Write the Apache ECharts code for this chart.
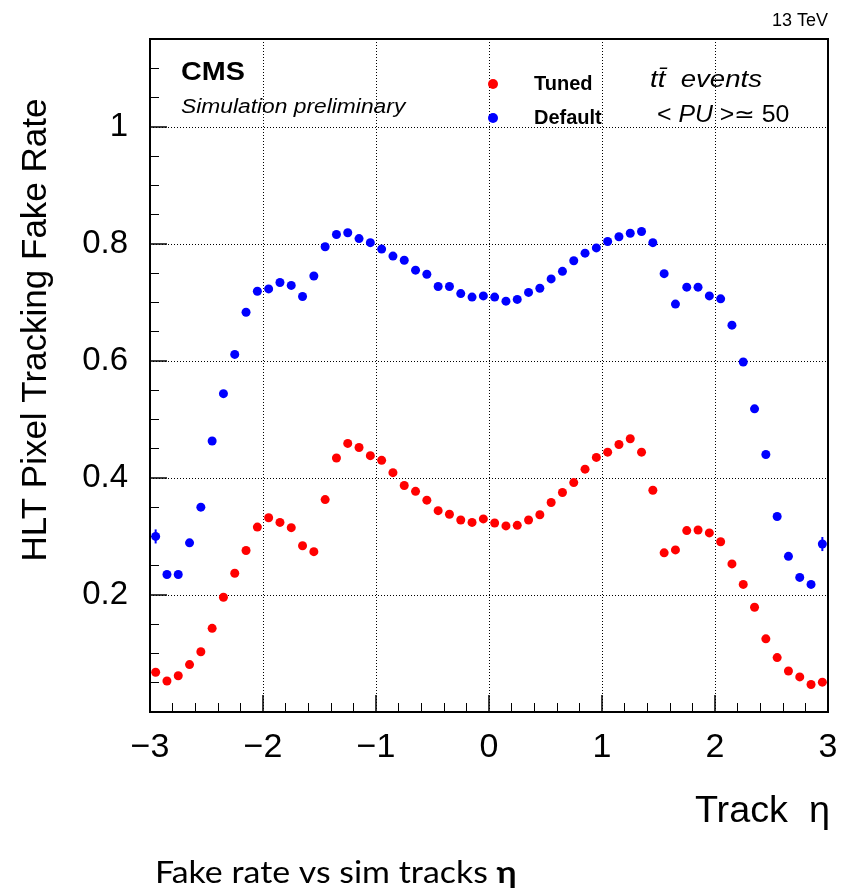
<!DOCTYPE html>
<html>
<head>
<meta charset="utf-8">
<script src="https://cdn.jsdelivr.net/npm/echarts@6/dist/echarts.min.js"></script>
<style>
html,body{margin:0;padding:0;background:#fff;}
#chart{width:841px;height:891px;}
</style>
</head>
<body>
<div id="chart"></div>
<script>
// Bin centres in track eta
const eta = [-2.95,-2.85,-2.75,-2.65,-2.55,-2.45,-2.35,-2.25,-2.15,-2.05,
  -1.95,-1.85,-1.75,-1.65,-1.55,-1.45,-1.35,-1.25,-1.15,-1.05,
  -0.95,-0.85,-0.75,-0.65,-0.55,-0.45,-0.35,-0.25,-0.15,-0.05,
  0.05,0.15,0.25,0.35,0.45,0.55,0.65,0.75,0.85,0.95,
  1.05,1.15,1.25,1.35,1.45,1.55,1.65,1.75,1.85,1.95,
  2.05,2.15,2.25,2.35,2.45,2.55,2.65,2.75,2.85,2.95];

const tunedRate = [0.068,0.053,0.062,0.081,0.103,0.143,0.196,0.237,0.276,0.316,
  0.332,0.324,0.315,0.284,0.274,0.363,0.434,0.459,0.452,0.438,
  0.430,0.409,0.387,0.377,0.362,0.344,0.338,0.328,0.324,0.330,
  0.323,0.318,0.319,0.328,0.337,0.358,0.375,0.392,0.415,0.435,
  0.444,0.457,0.467,0.444,0.379,0.272,0.277,0.310,0.311,0.306,
  0.291,0.253,0.218,0.179,0.125,0.093,0.070,0.060,0.047,0.051];

const defaultRate = [0.300,0.235,0.235,0.289,0.350,0.463,0.544,0.611,0.683,0.719,
  0.723,0.734,0.729,0.710,0.745,0.795,0.816,0.819,0.809,0.802,
  0.791,0.779,0.772,0.755,0.748,0.727,0.727,0.715,0.709,0.711,
  0.709,0.702,0.705,0.717,0.724,0.740,0.753,0.771,0.784,0.793,
  0.804,0.812,0.818,0.821,0.802,0.749,0.697,0.726,0.726,0.711,
  0.706,0.661,0.598,0.518,0.440,0.334,0.266,0.230,0.218,0.287];

// visible error bars (only the edge bins have errors larger than the marker)
const defaultErrEta = [-2.95, 2.95];
const defaultErrLow = [0.288, 0.275];
const defaultErrHigh = [0.312, 0.299];

const xTicks = [-3,-2,-1,0,1,2,3];
const yTicks = [0.2,0.4,0.6,0.8,1];

const seriesNames = ['Tuned','Default'];

const FONT = '"Liberation Sans", Arial, Helvetica, sans-serif';
const CAPFONT = 'Lato, "Open Sans", sans-serif';

const chart = echarts.init(document.getElementById('chart'), null, {renderer:'canvas'});

const tunedData = eta.map((x,i)=>[x,tunedRate[i]]);
const defaultData = eta.map((x,i)=>[x,defaultRate[i]]);
const errData = defaultErrEta.map((x,i)=>[x,defaultErrLow[i],defaultErrHigh[i]]);

const option = {
  backgroundColor:'#fff',
  animation:false,
  grid:{left:150,right:13,top:39,bottom:179,show:true,borderColor:'#000',borderWidth:2,backgroundColor:'transparent'},
  xAxis:{
    type:'value',min:-3,max:3,interval:1,
    axisLine:{show:false,onZero:false},
    axisTick:{show:true,inside:true,length:17,lineStyle:{color:'#000',width:1.5}},
    minorTick:{show:true,splitNumber:5,length:9,lineStyle:{color:'#000',width:1}},
    splitLine:{show:true,lineStyle:{color:'#000',type:[1,2],width:1}},
    axisLabel:{fontFamily:FONT,fontSize:34,color:'#000',margin:19,
      formatter:function(v){
        if(xTicks.indexOf(Math.round(v))<0) return '';
        return v<0?'\u2212'+Math.abs(v):String(v);}}
  },
  yAxis:{
    type:'value',min:0,max:1.15,interval:0.2,
    axisLine:{show:false,onZero:false},
    axisTick:{show:true,inside:true,length:17,lineStyle:{color:'#000',width:1.5}},
    minorTick:{show:true,splitNumber:4,length:9,lineStyle:{color:'#000',width:1}},
    splitLine:{show:true,lineStyle:{color:'#000',type:[1,2],width:1}},
    axisLabel:{fontFamily:FONT,fontSize:33,color:'#000',margin:22,showMaxLabel:false,
      formatter:function(v){
        const r=Math.round(v*10)/10;
        if(yTicks.indexOf(r)<0||Math.abs(v-r)>1e-6) return '';
        return r===1?'1':r.toFixed(1);
      }}
  },
  legend:{
    data:seriesNames,orient:'vertical',left:483,top:68,
    icon:'circle',itemWidth:10,itemHeight:10,itemGap:12,
    textStyle:{fontFamily:FONT,fontWeight:'bold',fontSize:20,color:'#000',lineHeight:22,padding:[0,0,0,31]}
  },
  series:[
    {name:seriesNames[0],type:'scatter',data:tunedData,symbol:'circle',symbolSize:9,
      itemStyle:{color:'#ff0000',opacity:1},z:3},
    {name:seriesNames[1],type:'scatter',data:defaultData,symbol:'circle',symbolSize:9,
      itemStyle:{color:'#0000ff',opacity:1},z:3},
    {name:'DefaultErr',type:'custom',data:errData,z:4,
      renderItem:function(params,api){
        const p1=api.coord([api.value(0),api.value(1)]);
        const p2=api.coord([api.value(0),api.value(2)]);
        return {type:'line',shape:{x1:p1[0],y1:p1[1],x2:p2[0],y2:p2[1]},style:{stroke:'#0000ff',lineWidth:2}};
      }}
  ],
  graphic:[
    {type:'text',x:828,y:12,style:{text:'13 TeV',font:'18px '+FONT,fill:'#000',align:'right'}},
    {type:'text',x:181,y:61,scaleX:1.15,style:{text:'CMS',font:'bold 25px '+FONT,fill:'#000'}},
    {type:'text',x:181,y:97,scaleX:1.14,style:{text:'Simulation preliminary',font:'italic 20px '+FONT,fill:'#000'}},
    {type:'text',x:650,y:69,scaleX:1.2,style:{text:'t\u0074\u0304  events',font:'italic 23px '+FONT,fill:'#000'}},
    {type:'text',x:657,y:104,scaleX:1.08,style:{
      text:'{n|< }{i|PU}{n| >\u2243 50}',
      rich:{n:{font:'23px '+FONT,fill:'#000'},i:{font:'italic 23px '+FONT,fill:'#000'}}}},
    {type:'text',x:36,y:330,rotation:Math.PI/2,style:{text:'HLT Pixel Tracking Fake Rate',font:'35px '+FONT,fill:'#000',align:'center',verticalAlign:'middle'}},
    {type:'text',x:830,y:794,scaleX:1.05,style:{text:'Track  \u03b7',font:'36px '+FONT,fill:'#000',align:'right'}},
    {type:'text',x:155,y:858,scaleX:1.13,style:{
      text:'{n|Fake rate vs sim tracks }{b|\u03b7}',
      rich:{n:{font:'30px '+CAPFONT,fill:'#000'},b:{font:'bold 30px '+CAPFONT,fill:'#000'}}}}
  ]
};
chart.setOption(option);
</script>
</body>
</html>
